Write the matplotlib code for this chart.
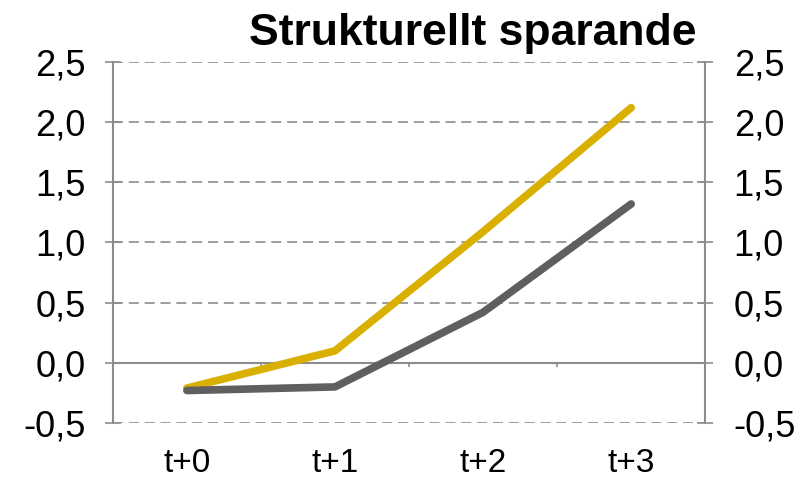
import numpy as np
import matplotlib.pyplot as plt
from matplotlib.ticker import FuncFormatter

plt.rcParams['font.family'] = ['Liberation Sans', 'DejaVu Sans']

categories = ['t+0', 't+1', 't+2', 't+3']
gold_series = [-0.21, 0.10, 1.09, 2.12]
gray_series = [-0.23, -0.20, 0.42, 1.32]
yticks = [-0.5, 0.0, 0.5, 1.0, 1.5, 2.0, 2.5]
title = 'Strukturellt sparande'

gold = '#D9B000'
dark = '#5F5F5F'
axis_grey = '#8C8C8C'

fig = plt.figure(figsize=(8.06, 4.84), dpi=100)
ax = fig.add_axes([0.140, 0.126, 0.735, 0.746])

x = np.arange(len(categories))
ax.plot(x, gold_series, color=gold, lw=5.5, solid_capstyle='round', solid_joinstyle='round', zorder=3)
ax.plot(x, gray_series, color=dark, lw=5.5, solid_capstyle='round', solid_joinstyle='round', zorder=3)

ax.set_xlim(-0.5, len(categories) - 0.5)
ax.set_ylim(yticks[0], yticks[-1])

fmt = FuncFormatter(lambda v, p: f'{v:.1f}'.replace('.', ','))
for y in yticks:
    if y != 0:
        ax.axhline(y, color=axis_grey, lw=1.2, ls=(0, (6, 3.5)), zorder=1)

# x axis sits at zero, boundary ticks only
ax.spines['bottom'].set_position(('data', 0))
ax.spines['bottom'].set_color(axis_grey)
ax.spines['bottom'].set_linewidth(1.5)
ax.set_xticks(np.arange(-0.5, len(categories), 1.0))
ax.set_xticklabels([])
ax.tick_params(axis='x', direction='out', length=3, color=axis_grey, width=1.2)
ax.spines['top'].set_visible(False)
ax.spines['right'].set_visible(False)
ax.spines['left'].set_color(axis_grey)
ax.spines['left'].set_linewidth(1.5)

ax.set_yticks(yticks)
ax.yaxis.set_major_formatter(fmt)
ax.tick_params(axis='y', direction='inout', length=11, color=axis_grey, width=1.2,
               labelsize=26, pad=14)

sec = ax.secondary_xaxis('bottom')
sec.set_xticks(x)
sec.set_xticklabels(categories)
sec.spines['bottom'].set_visible(False)
sec.tick_params(length=0, labelsize=24, pad=18)

ax2 = ax.twinx()
ax2.set_ylim(ax.get_ylim())
ax2.set_yticks(yticks)
ax2.yaxis.set_major_formatter(fmt)
for s in ['top', 'left', 'bottom']:
    ax2.spines[s].set_visible(False)
ax2.spines['right'].set_color(axis_grey)
ax2.spines['right'].set_linewidth(1.5)
ax2.tick_params(axis='y', direction='inout', length=11, color=axis_grey, width=1.2,
                labelsize=26, pad=15)

fig.text(0.864, 0.93, title, ha='right', va='center', fontsize=32, fontweight='bold')

fig.savefig('out.png', dpi=100)
